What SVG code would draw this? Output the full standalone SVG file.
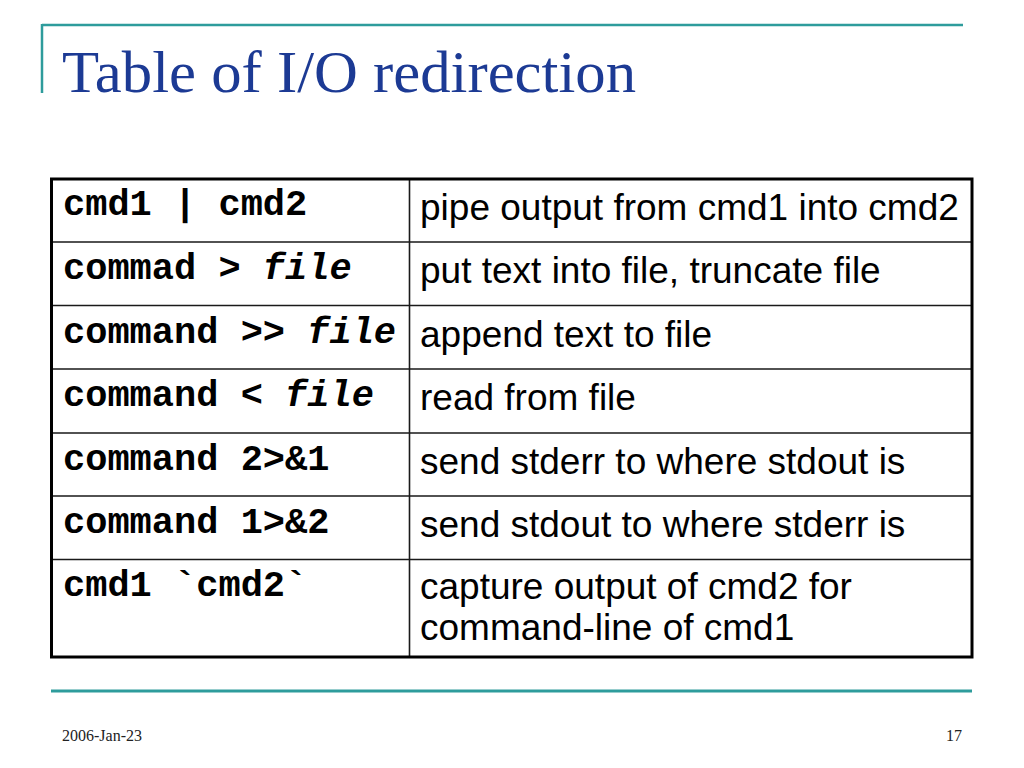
<svg xmlns="http://www.w3.org/2000/svg" width="1024" height="768" viewBox="0 0 1024 768">
<style>
.deco{stroke:#2E9C9C;fill:none}
.title{font-family:"Liberation Serif",serif;font-size:59px;fill:#1C3A94}
.mono{font-family:"Liberation Mono","Courier New",monospace;font-size:37px;font-weight:bold;fill:#000}
.mono .it{font-style:italic}
.sans{font-family:"Liberation Sans",Arial,sans-serif;font-size:37px;fill:#000}
.foot{font-family:"Liberation Serif",serif;font-size:16px;fill:#222}
.grid{stroke:#1a1a1a;stroke-width:1.6;fill:none}
.outer{stroke:#000;stroke-width:3;fill:none}
</style>
<rect width="1024" height="768" fill="#fff"/>
<g id="decoration">
<path class="deco" d="M42 25 H963" stroke-width="2.5"/>
<path class="deco" d="M42 24 V93" stroke-width="2.5"/>
<path class="deco" d="M51 691 H972" stroke-width="3"/>
</g>
<text id="title" class="title" x="62" y="92" textLength="574" lengthAdjust="spacingAndGlyphs">Table of I/O redirection</text>
<g id="table">
<g id="grid">
<path class="grid" d="M409.5 179 V657 M52 242 H972 M52 305.5 H972 M52 369 H972 M52 433 H972 M52 496 H972 M52 559.5 H972"/>
<rect class="outer" x="51.5" y="179" width="920.5" height="478"/>
</g>
<g id="row1"><text class="mono" x="63" y="215">cmd1 | cmd2</text><text class="sans" x="420" y="220">pipe output from cmd1 into cmd2</text></g>
<g id="row2"><text class="mono" x="63" y="279">commad &gt; <tspan class="it">file</tspan></text><text class="sans" x="420" y="283">put text into file, truncate file</text></g>
<g id="row3"><text class="mono" x="63" y="343">command &gt;&gt; <tspan class="it">file</tspan></text><text class="sans" x="420" y="347">append text to file</text></g>
<g id="row4"><text class="mono" x="63" y="406">command &lt; <tspan class="it">file</tspan></text><text class="sans" x="420" y="410">read from file</text></g>
<g id="row5"><text class="mono" x="63" y="470">command 2&gt;&amp;1</text><text class="sans" x="420" y="474">send stderr to where stdout is</text></g>
<g id="row6"><text class="mono" x="63" y="533">command 1&gt;&amp;2</text><text class="sans" x="420" y="537">send stdout to where stderr is</text></g>
<g id="row7"><text class="mono" x="63" y="596">cmd1 `cmd2`</text><text class="sans" x="420" y="599">capture output of cmd2 for</text><text class="sans" x="420" y="640">command-line of cmd1</text></g>
</g>
<g id="footer">
<text class="foot" x="62" y="741">2006-Jan-23</text>
<text class="foot" x="962" y="741" text-anchor="end">17</text>
</g>
</svg>
